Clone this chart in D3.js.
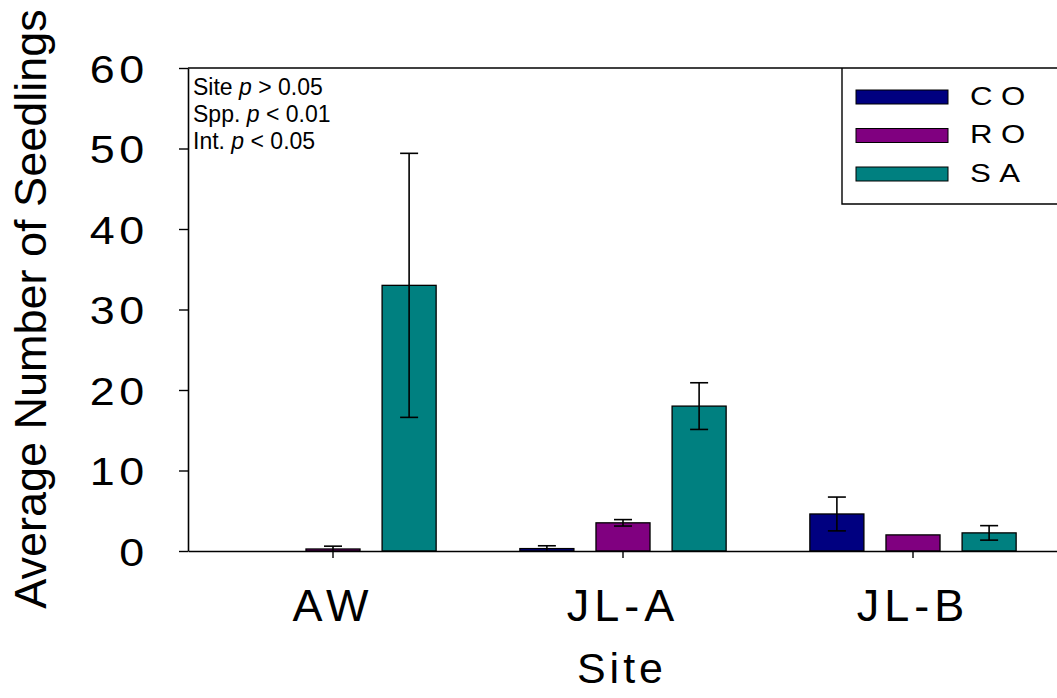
<!DOCTYPE html>
<html>
<head>
<meta charset="UTF-8">
<title>Average Number of Seedlings by Site</title>
<style>
  body { margin: 0; background: #fff; }
  svg { display: block; font-family: Arial, "Liberation Sans", sans-serif; }
</style>
</head>
<body>
<div id="chart"></div>
<script src="https://cdnjs.cloudflare.com/ajax/libs/d3/7.8.5/d3.min.js"></script>
<script>
// data
const sites = ["AW", "JL-A", "JL-B"];
const species = ["CO", "RO", "SA"];
const means = {
  CO: [0, 0.3, 4.6],
  RO: [0.25, 3.5, 2.0],
  SA: [33, 18, 2.25]
};
const errs = {
  CO: [0, 0.35, 2.1],
  RO: [0.35, 0.4, 0],
  SA: [16.4, 2.9, 0.9]
};
const colors = ["#000080", "#800080", "#008080"];
const yTicks = [0, 10, 20, 30, 40, 50, 60];
const notes = [["Site ", "p", " > 0.05"], ["Spp. ", "p", " < 0.01"], ["Int. ", "p", " < 0.05"]];

const W = 1057, H = 698;
const mLeft = 188, mRight = 1058, mTop = 68, mBottom = 551;

const svg = d3.select("#chart").append("svg")
  .attr("width", W).attr("height", H);

const x0 = d3.scaleBand().domain(sites).range([mLeft, mRight]);
const x1 = d3.scaleBand().domain(species).range([0, x0.bandwidth()])
  .paddingInner(0.29).paddingOuter(0.55);
const y = d3.scaleLinear().domain([0, 60]).range([mBottom, mTop]);
const color = d3.scaleOrdinal().domain(species).range(colors);

// bars
const rows = [];
sites.forEach((s, i) => species.forEach(sp => rows.push({ site: s, sp: sp, v: means[sp][i], e: errs[sp][i] })));

svg.append("g").selectAll("rect")
  .data(rows)
  .join("rect")
  .attr("x", d => x0(d.site) + x1(d.sp))
  .attr("y", d => y(d.v))
  .attr("width", x1.bandwidth())
  .attr("height", d => y(0) - y(d.v))
  .attr("fill", d => color(d.sp))
  .attr("stroke", "#000")
  .attr("stroke-width", 1.3);

// error bars
const eb = svg.append("g").attr("stroke", "#000").attr("stroke-width", 1.6);
rows.filter(d => d.e > 0).forEach(d => {
  const cx = x0(d.site) + x1(d.sp) + x1.bandwidth() / 2;
  const hi = y(d.v + d.e), lo = y(Math.max(0, d.v - d.e));
  eb.append("line").attr("x1", cx).attr("x2", cx).attr("y1", hi).attr("y2", lo);
  eb.append("line").attr("x1", cx - 9).attr("x2", cx + 9).attr("y1", hi).attr("y2", hi);
  if (d.v - d.e > 0)
    eb.append("line").attr("x1", cx - 9).attr("x2", cx + 9).attr("y1", lo).attr("y2", lo);
});

// y axis
const yAxis = svg.append("g")
  .attr("transform", `translate(${mLeft},0)`)
  .call(d3.axisLeft(y).tickValues(yTicks).tickSize(9).tickSizeOuter(0).tickPadding(0));
yAxis.select(".domain").attr("stroke-width", 1.6);
yAxis.selectAll(".tick line").attr("stroke-width", 1.4);
yAxis.selectAll(".tick text")
  .attr("font-size", 39)
  .attr("font-family", "Arial, 'Liberation Sans', sans-serif")
  .attr("fill", "#000")
  .attr("letter-spacing", 4)
  .attr("x", -34)
  .attr("dy", "0.36em")
  .attr("transform", "scale(1.15,1)");

// x axis
const xAxis = svg.append("g")
  .attr("transform", `translate(0,${mBottom})`)
  .call(d3.axisBottom(x0).tickSize(7).tickSizeOuter(0).tickPadding(0));
xAxis.select(".domain").attr("stroke-width", 1.6);
xAxis.selectAll(".tick line").attr("stroke-width", 1.4);
xAxis.selectAll(".tick text")
  .attr("font-size", 45)
  .attr("font-family", "Arial, 'Liberation Sans', sans-serif")
  .attr("fill", "#000")
  .attr("letter-spacing", 5)
  .attr("y", 70)
  .attr("dy", 0);

// top frame line
svg.append("line")
  .attr("x1", mLeft).attr("x2", W).attr("y1", mTop).attr("y2", mTop)
  .attr("stroke", "#000").attr("stroke-width", 1.6);

// axis titles
svg.append("text")
  .attr("x", 622).attr("y", 683)
  .attr("text-anchor", "middle")
  .attr("font-size", 43)
  .attr("letter-spacing", 4)
  .text("Site");

svg.append("text")
  .attr("transform", "translate(46,309) rotate(-90)")
  .attr("text-anchor", "middle")
  .attr("font-size", 45)
  .text("Average Number of Seedlings");

// statistics note
const note = svg.append("g").attr("font-size", 23);
notes.forEach((n, i) => {
  const t = note.append("text").attr("x", 193).attr("y", 95 + i * 27);
  t.append("tspan").text(n[0]);
  t.append("tspan").attr("font-style", "italic").text(n[1]);
  t.append("tspan").text(n[2]);
});

// legend
const lg = svg.append("g");
lg.append("path")
  .attr("d", `M${842},${mTop}V${204}H${W}`)
  .attr("fill", "none").attr("stroke", "#000").attr("stroke-width", 1.4);
species.forEach((sp, i) => {
  const cy = 97 + i * 38.5;
  lg.append("rect")
    .attr("x", 856).attr("y", cy - 7)
    .attr("width", 92).attr("height", 14)
    .attr("fill", color(sp)).attr("stroke", "#000").attr("stroke-width", 1);
  lg.append("text")
    .attr("x", 970 / 1.2).attr("y", cy + 8)
    .attr("transform", "scale(1.2,1)")
    .attr("font-size", 26)
    .attr("letter-spacing", 7)
    .text(sp);
});
</script>
</body>
</html>
